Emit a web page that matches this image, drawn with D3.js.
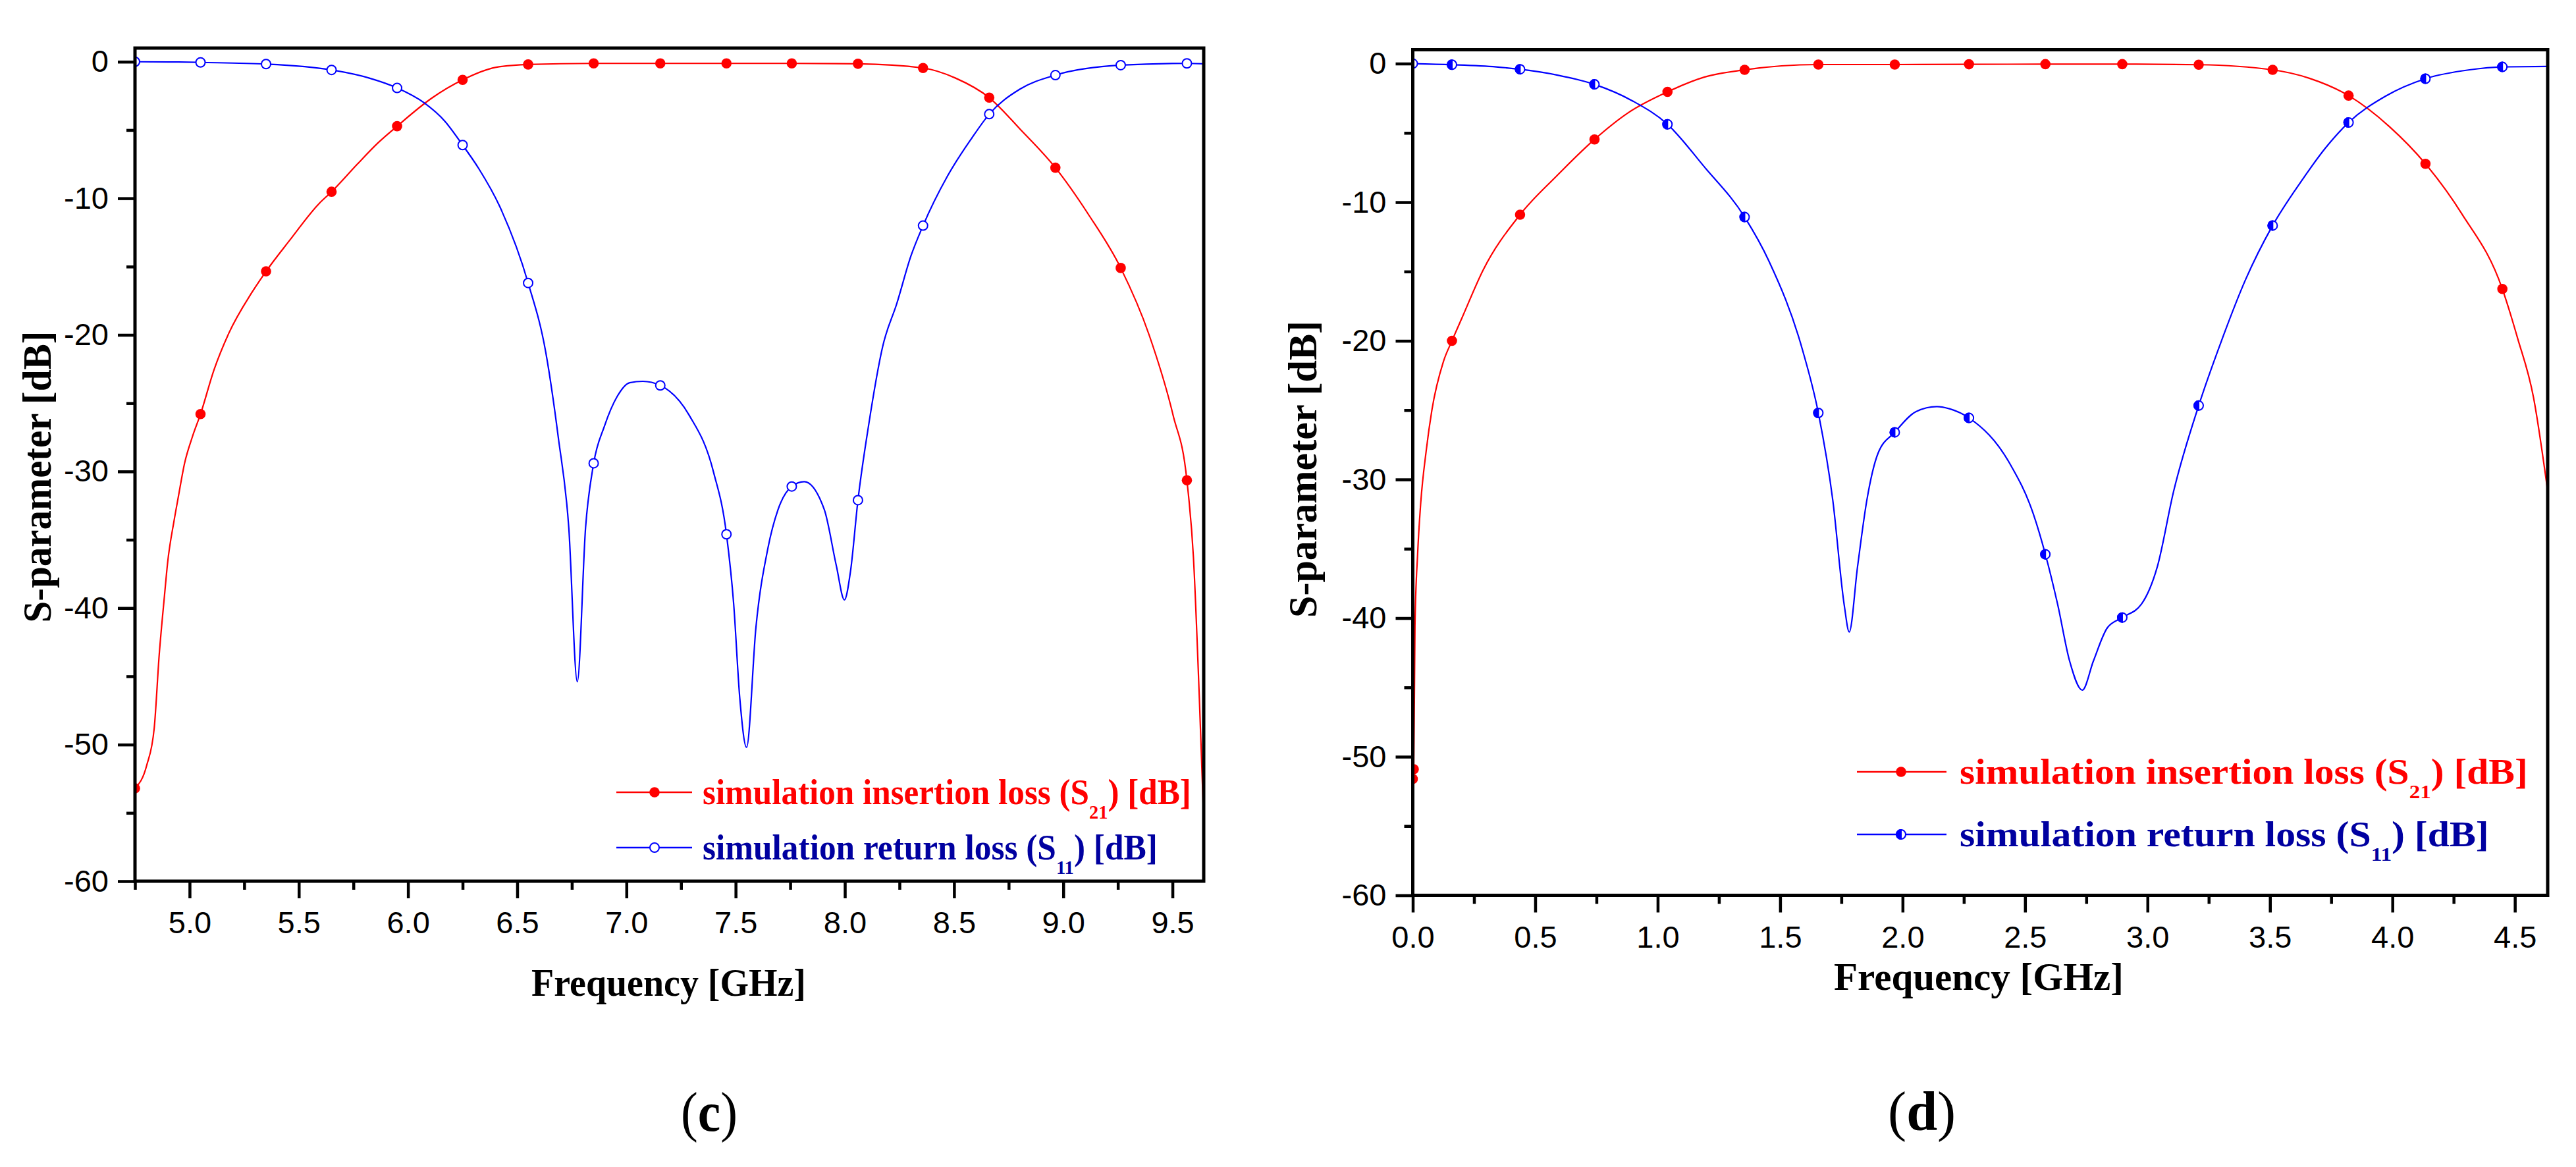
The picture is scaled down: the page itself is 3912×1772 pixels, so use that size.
<!DOCTYPE html>
<html>
<head>
<meta charset="utf-8">
<script src="https://cdn.jsdelivr.net/npm/d3@7"></script>
<style>
  body { margin: 0; background: #fff; }
</style>
</head>
<body>
<script>
// ---- data: [frequency GHz, dB] ----

// panel (c)
const s21C = [
  [4.75,-53.2],[4.804,-51.5],[4.838,-48.8],[4.861,-43.4],[4.885,-39.1],[4.9,-36.6],[4.929,-33.6],
  [4.948,-31.9],[4.977,-29.4],[5.012,-27.5],[5.05,-25.8],[5.112,-22.55],[5.179,-19.9],
  [5.285,-16.9],[5.35,-15.35],[5.457,-13.1],[5.592,-10.4],[5.65,-9.52],[5.765,-7.55],[5.862,-5.95],
  [5.95,-4.72],[6.112,-2.63],[6.25,-1.33],[6.4,-0.42],[6.55,-0.2],[6.85,-0.12],[7.155,-0.12],
  [7.458,-0.12],[7.757,-0.12],[8.06,-0.15],[8.358,-0.46],[8.507,-1.2],[8.661,-2.63],[8.802,-4.93],
  [8.964,-7.76],[9.116,-11.2],[9.263,-15.1],[9.393,-20.0],[9.503,-25.9],[9.566,-30.65],
  [9.596,-36.3],[9.623,-46.6],[9.643,-55.5]
];
const s11C = [
  [4.75,0],[4.95,-0.02],[5.05,-0.05],[5.35,-0.17],[5.65,-0.6],[5.823,-1.2],[5.95,-1.92],[6.073,-3.0],
  [6.169,-4.36],[6.25,-6.1],[6.323,-7.8],[6.42,-10.6],[6.55,-16.2],[6.631,-21.3],
  [6.688,-27.5],[6.736,-34.1],[6.775,-45.4],[6.813,-34.1],[6.85,-29.4],[6.899,-26.7],[6.958,-24.5],
  [7.015,-23.5],[7.075,-23.4],[7.155,-23.7],[7.288,-25.9],[7.399,-30.06],[7.458,-34.6],[7.491,-39.7],
  [7.519,-46.6],[7.55,-50.2],[7.593,-41.4],[7.648,-35.6],[7.694,-32.8],[7.757,-31.1],[7.814,-30.75],
  [7.906,-32.8],[7.961,-36.9],[7.998,-39.4],[8.026,-37.3],[8.06,-32.1],[8.109,-26.6],[8.174,-20.8],
  [8.238,-17.7],[8.303,-14.2],[8.358,-12.0],[8.47,-8.37],[8.58,-5.62],[8.661,-3.84],[8.802,-2.0],
  [8.964,-0.98],[9.263,-0.25],[9.566,-0.12],[9.643,-0.15]
];
const marksC = [4.75,5.05,5.35,5.65,5.95,6.25,6.55,6.85,7.155,7.458,7.757,8.06,8.358,8.661,8.964,9.263,9.566];

// panel (d)
const s21D = [
  [0,-51.6],[0.004,-50.9],[0.009,-40.5],[0.02,-35.3],[0.032,-31.8],[0.055,-27.9],[0.078,-25.0],
  [0.125,-21.5],[0.16,-20.0],[0.202,-18.3],[0.287,-14.9],[0.438,-10.9],[0.588,-8.1],[0.742,-5.47],
  [0.881,-3.53],[1.04,-2.04],[1.19,-0.98],[1.355,-0.45],[1.656,-0.07],[1.968,-0.07],[2.271,-0.05],
  [2.583,-0.04],[2.897,-0.04],[3.209,-0.08],[3.511,-0.45],[3.661,-1.06],[3.821,-2.31],[3.988,-4.55],
  [4.135,-7.23],[4.282,-10.8],[4.449,-16.26],[4.511,-19.8],[4.576,-24.07],[4.633,-30.7]
];
const s11D = [
  [0,0],[0.16,-0.08],[0.341,-0.24],[0.438,-0.41],[0.588,-0.82],[0.742,-1.5],[0.897,-2.69],[1.04,-4.38],
  [1.19,-7.44],[1.355,-11.07],[1.453,-14.2],[1.592,-20.7],[1.656,-25.2],[1.715,-31.5],[1.762,-39.1],
  [1.782,-41.0],[1.816,-36.3],[1.854,-31.5],[1.9,-28.1],[1.968,-26.6],[2.055,-25.1],[2.14,-24.74],
  [2.191,-24.9],[2.271,-25.56],[2.436,-28.8],[2.534,-32.5],[2.583,-35.4],[2.633,-39.0],[2.682,-43.1],
  [2.734,-45.2],[2.779,-43.1],[2.836,-40.7],[2.897,-39.96],[2.975,-39.0],[3.04,-36.3],[3.106,-30.9],
  [3.209,-24.67],[3.302,-20.0],[3.4,-15.6],[3.511,-11.68],[3.629,-8.46],[3.727,-6.08],[3.821,-4.25],
  [3.972,-2.35],[4.135,-1.09],[4.315,-0.45],[4.449,-0.24],[4.633,-0.21]
];
const marksD21 = [0,0.004,0.16,0.438,0.742,1.04,1.355,1.656,1.968,2.271,2.583,2.897,3.209,3.511,3.821,4.135,4.449];
const marksD11 = [0,0.16,0.438,0.742,1.04,1.355,1.656,1.968,2.271,2.583,2.897,3.209,3.511,3.821,4.135,4.449];

// ticks
const yTicks = [0,-10,-20,-30,-40,-50,-60];
const yMinor = [-5,-15,-25,-35,-45,-55];
const xTicksC = [5.0,5.5,6.0,6.5,7.0,7.5,8.0,8.5,9.0,9.5];
const xMinorC = [4.75,5.25,5.75,6.25,6.75,7.25,7.75,8.25,8.75,9.25];
const xTicksD = [0,0.5,1.0,1.5,2.0,2.5,3.0,3.5,4.0,4.5];
const xMinorD = [0.25,0.75,1.25,1.75,2.25,2.75,3.25,3.75,4.25];

// texts
const legendS21 = ["simulation insertion loss (S", "21", ") [dB]"];
const legendS11 = ["simulation return loss (S", "11", ") [dB]"];
const xTitle = "Frequency [GHz]";
const yTitle = "S-parameter [dB]";

// ---- layout ----
const W = 3912, H = 1772;
const RED = "#ff0000", BLUE = "#0000ff", NAVY = "#0000a0";
const serif = "'Liberation Serif','Times New Roman',serif";
const sans = "'Liberation Sans',Arial,sans-serif";

const panels = [
  { id: "c", s21: s21C, s11: s11C, m21: marksC, m11: marksC, half: false,
    xDomain: [4.75, 9.643], xTicks: xTicksC, xMinor: xMinorC,
    box: { l: 205, r: 1828, t: 73, b: 1338 },
    leg: { x0: 936, x1: 1051, xm: 994, y21: 1203, y11: 1287, tx: 1067, w21: 742, w11: 691, fs: 54 },
    xt: { cx: 1015.5, y: 1512, w: 417 }, yt: { x: 77, cy: 724, w: 443 },
    cap: { cx: 1077, y: 1717, w: 86 } },
  { id: "d", s21: s21D, s11: s11D, m21: marksD21, m11: marksD11, half: true,
    xDomain: [0, 4.634], xTicks: xTicksD, xMinor: xMinorD,
    box: { l: 2145.5, r: 3869, t: 75.5, b: 1359.5 },
    leg: { x0: 2820, x1: 2956, xm: 2887, y21: 1172, y11: 1267, tx: 2976, w21: 863, w11: 804, fs: 54 },
    xt: { cx: 3005, y: 1503, w: 440 }, yt: { x: 1999, cy: 712.5, w: 451 },
    cap: { cx: 2918.6, y: 1716, w: 103 } }
];

const svg = d3.select("body").append("svg")
  .attr("width", W).attr("height", H)
  .style("background", "#fff");

// squeeze factor so a text element spans w pixels
function squeeze(sel, w) {
  const bw = sel.node().getBBox().width;
  return bw ? w / bw : 1;
}

function marker(g, x, y, color, style) {
  if (style === "filled") {
    g.append("circle").attr("cx", x).attr("cy", y).attr("r", 7.8).attr("fill", color);
  } else {
    const r = 7;
    g.append("circle").attr("cx", x).attr("cy", y).attr("r", r)
      .attr("fill", "#fff").attr("stroke", color).attr("stroke-width", 2);
    if (style === "half") {
      g.append("path")
        .attr("d", `M${x},${y - r} A${r},${r} 0 0 0 ${x},${y + r} Z`)
        .attr("fill", color).attr("stroke", color).attr("stroke-width", 2);
    }
  }
}

panels.forEach(p => {
  const b = p.box;
  const x = d3.scaleLinear().domain(p.xDomain).range([b.l, b.r]);
  const y = d3.scaleLinear().domain([-60, 1]).range([b.b, b.t]);
  const g = svg.append("g").attr("class", "panel-" + p.id);

  const clipId = "clip-" + p.id;
  svg.append("clipPath").attr("id", clipId)
    .append("rect").attr("x", b.l).attr("y", b.t)
    .attr("width", b.r - b.l).attr("height", b.b - b.t);

  const line = d3.line().x(d => x(d[0])).y(d => y(d[1])).curve(d3.curveMonotoneX);
  const plot = g.append("g").attr("clip-path", `url(#${clipId})`);

  plot.append("path").datum(p.s21).attr("d", line)
    .attr("fill", "none").attr("stroke", RED).attr("stroke-width", 2.2);
  plot.append("path").datum(p.s11).attr("d", line)
    .attr("fill", "none").attr("stroke", BLUE).attr("stroke-width", 2.2);

  const near = (arr, f) => d3.least(arr, q => Math.abs(q[0] - f));
  p.m21.forEach(f => { const q = near(p.s21, f); marker(plot, x(q[0]), y(q[1]), RED, "filled"); });
  p.m11.forEach(f => { const q = near(p.s11, f); marker(plot, x(q[0]), y(q[1]), BLUE, p.half ? "half" : "open"); });

  // axes
  const styleAxis = a => {
    a.select(".domain").remove();
    a.selectAll(".tick line").attr("stroke", "#000").attr("stroke-width", 4.5);
    a.selectAll(".tick text").attr("fill", "#000").style("font-family", sans).style("font-size", "47px");
  };
  g.append("g").attr("transform", `translate(${b.l},0)`)
    .call(d3.axisLeft(y).tickValues(yTicks).tickSize(26).tickPadding(14).tickFormat(d => String(d)))
    .call(styleAxis);
  g.append("g").attr("transform", `translate(${b.l},0)`)
    .call(d3.axisLeft(y).tickValues(yMinor).tickSize(13).tickFormat(""))
    .call(styleAxis);
  g.append("g").attr("transform", `translate(0,${b.b})`)
    .call(d3.axisBottom(x).tickValues(p.xTicks).tickSize(26).tickPadding(20).tickFormat(d => d.toFixed(1)))
    .call(styleAxis);
  g.append("g").attr("transform", `translate(0,${b.b})`)
    .call(d3.axisBottom(x).tickValues(p.xMinor).tickSize(13).tickFormat(""))
    .call(styleAxis);

  g.append("rect").attr("x", b.l).attr("y", b.t)
    .attr("width", b.r - b.l).attr("height", b.b - b.t)
    .attr("fill", "none").attr("stroke", "#000").attr("stroke-width", 5);

  // axis titles
  const xt = g.append("text").attr("text-anchor", "middle")
    .style("font-family", serif).style("font-weight", "bold").style("font-size", "60px")
    .text(xTitle);
  xt.attr("transform", `translate(${p.xt.cx},${p.xt.y}) scale(${squeeze(xt, p.xt.w)},1)`);

  const yt = g.append("text").attr("text-anchor", "middle")
    .style("font-family", serif).style("font-weight", "bold").style("font-size", "62px")
    .text(yTitle);
  yt.attr("transform", `translate(${p.yt.x},${p.yt.cy}) rotate(-90) scale(${squeeze(yt, p.yt.w)},1)`);

  // legend
  const L = p.leg;
  [[legendS21, L.y21, RED, RED, "filled", L.w21],
   [legendS11, L.y11, BLUE, NAVY, p.half ? "half" : "open", L.w11]].forEach(([txt, ly, col, tcol, st, w]) => {
    g.append("line").attr("x1", L.x0).attr("x2", L.x1).attr("y1", ly).attr("y2", ly)
      .attr("stroke", col).attr("stroke-width", 2.5);
    marker(g, L.xm, ly, col, st);
    const t = g.append("text").attr("fill", tcol)
      .style("font-family", serif).style("font-weight", "bold").style("font-size", L.fs + "px");
    t.append("tspan").text(txt[0]);
    t.append("tspan").attr("dy", 22).style("font-size", "30px").text(txt[1]);
    t.append("tspan").attr("dy", -22).text(txt[2]);
    t.attr("transform", `translate(${L.tx},${ly + 18}) scale(${squeeze(t, w)},1)`);
  });

  // caption
  const cap = svg.append("text").attr("text-anchor", "middle")
    .style("font-family", serif).style("font-size", "84px").attr("fill", "#000");
  cap.append("tspan").text("(");
  cap.append("tspan").style("font-weight", "bold").text(p.id);
  cap.append("tspan").text(")");
  cap.attr("transform", `translate(${p.cap.cx},${p.cap.y}) scale(${squeeze(cap, p.cap.w)},1)`);
});
</script>
</body>
</html>
